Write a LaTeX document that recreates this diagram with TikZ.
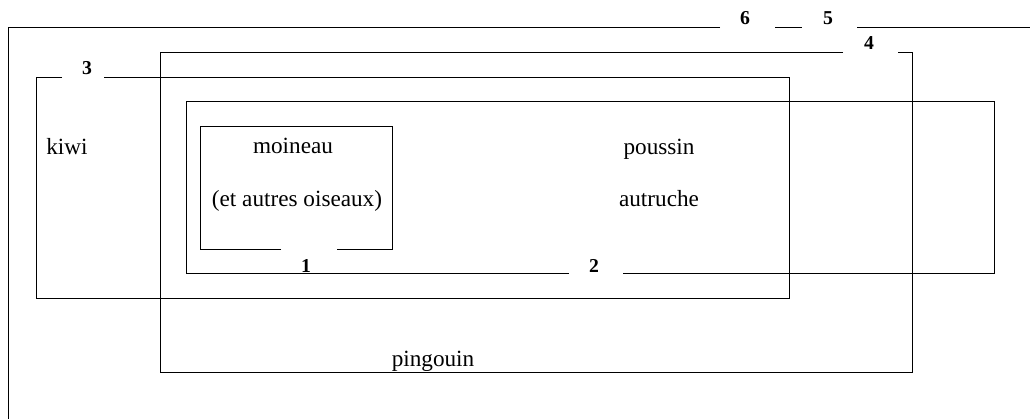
\documentclass[tikz,border=0pt]{standalone}
\usepackage{fontspec}
\setmainfont{Liberation Serif}
\begin{document}
\begin{tikzpicture}[x=0.025cm, y=-0.025cm, line width=0.7pt,
    word/.style={font=\fontsize{16.5}{18}\selectfont, inner sep=0pt, anchor=base},
    num/.style={font=\fontsize{14}{16}\selectfont\bfseries, inner sep=0pt, anchor=base}]
    \useasboundingbox (0,0) rectangle (1030,419);

    % set 6 and 5 (open frame)
    \coordinate (six) at (8, 27);
    \draw (720, 27) -- (six) -- (8, 419);
    \draw (775, 27) -- (802, 27);
    \draw (857, 27) -- (1030, 27);
    \node[num] (n6) at (745, 25) {6};
    \node[num] (n5) at (828, 25) {5};

    % set 4
    \coordinate (four) at (160, 52);
    \draw (843, 52) -- (four) -- (160, 372) -- (912, 372) -- (912, 52) -- (898, 52);
    \node[num] (n4) at (869, 50) {4};

    % set 3
    \coordinate (three) at (36, 77);
    \draw (62, 77) -- (three) -- (36, 298) -- (789, 298) -- (789, 77) -- (104, 77);
    \node[num] (n3) at (87, 75) {3};

    % set 2
    \coordinate (two) at (186, 101);
    \draw (569, 273) -- (186, 273) -- (two) -- (994, 101) -- (994, 273) -- (623, 273);
    \node[num] (n2) at (594, 272) {2};

    % set 1
    \coordinate (one) at (200, 126);
    \draw (281, 249) -- (200, 249) -- (one) -- (392, 126) -- (392, 249) -- (337, 249);
    \node[num] (n1) at (306, 272) {1};

    % birds
    \node[word] (kiwi) at (67, 155) {kiwi};
    \node[word] (moineau) at (293, 154) {moineau};
    \node[word] (autres) at (297, 207) {(et autres oiseaux)};
    \node[word] (poussin) at (659, 155) {poussin};
    \node[word] (autruche) at (659, 207) {autruche};
    \node[word] (pingouin) at (433, 366) {pingouin};
\end{tikzpicture}
\end{document}
